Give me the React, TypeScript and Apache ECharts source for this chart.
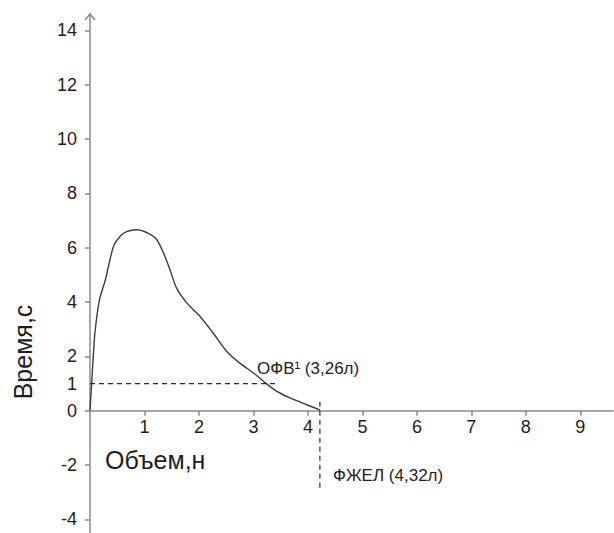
import React, { useEffect, useRef } from "react";
import * as echarts from "echarts";

// Flow-volume style curve (volume in litres on x, value on y)
const curveX = [0, 0.03, 0.06, 0.09, 0.17, 0.28, 0.43, 0.55, 0.67, 0.86, 1.07, 1.22, 1.35, 1.47, 1.59, 1.78, 2.02, 2.26, 2.51, 2.75, 3.0, 3.21, 3.43, 3.67, 3.98, 4.22];
const curveY = [0, 1.0, 2.0, 2.86, 4.05, 4.8, 6.04, 6.41, 6.59, 6.66, 6.53, 6.31, 5.8, 5.18, 4.51, 3.96, 3.47, 2.86, 2.18, 1.75, 1.39, 1.04, 0.71, 0.47, 0.22, 0.03];

const xTickValues = [1, 2, 3, 4, 5, 6, 7, 8, 9];
const yTickValues = [-4, -2, 0, 2, 4, 6, 8, 10, 12, 14];
const yLabelValues = [-4, -2, 0, 1, 2, 4, 6, 8, 10, 12, 14];

const fev1LineX = [0, 3.43];
const fev1LineY = [1, 1];
const fvcLineX = [4.22, 4.22];
const fvcLineY = [0.33, -2.98];

const xAxisTitle = "Объем,н";
const yAxisTitle = "Время,с";
const fev1Label = "ОФВ¹ (3,26л)";
const fvcLabel = "ФЖЕЛ (4,32л)";

const FONT = "'Liberation Sans', Arial, sans-serif";
const AXIS_COLOR = "#8a8a8a";
const TEXT_COLOR = "#1e1e1e";

const Y_MIN = -4.5;
const Y_MAX = 14.6;
const GRID_TOP = 14;
const GRID_BOTTOM = 0;
const HEIGHT = 533;

export default function App() {
  const ref = useRef<HTMLDivElement>(null);
  useEffect(() => {
    if (!ref.current) return;
    const chart = echarts.init(ref.current, undefined, { renderer: "svg" });
    const zip = (xs: number[], ys: number[]) => xs.map((x, i) => [x, ys[i]]);
    const plotH = HEIGHT - GRID_TOP - GRID_BOTTOM;
    // move the x axis (line, ticks, labels) up to y = 0
    const zeroOffset = -((0 - Y_MIN) / (Y_MAX - Y_MIN)) * plotH;
    chart.setOption({
      animation: false,
      backgroundColor: "#ffffff",
      grid: { left: 90, right: 1, top: GRID_TOP, bottom: GRID_BOTTOM, containLabel: false, outerBoundsMode: "none" },
      xAxis: {
        type: "value",
        position: "bottom",
        offset: zeroOffset,
        min: 0,
        max: 9.6,
        interval: 1,
        splitLine: { show: false },
        axisLine: { show: true, onZero: false, lineStyle: { color: AXIS_COLOR, width: 1.5 } },
        axisTick: { show: true, length: 5, customValues: xTickValues, lineStyle: { color: AXIS_COLOR, width: 1.5 } },
        axisLabel: { customValues: xTickValues, margin: 7, fontSize: 18, color: TEXT_COLOR, fontFamily: FONT },
      },
      yAxis: {
        type: "value",
        min: Y_MIN,
        max: Y_MAX,
        splitLine: { show: false },
        axisLine: { show: true, onZero: false, lineStyle: { color: AXIS_COLOR, width: 1.5 } },
        axisTick: { show: true, length: 5, customValues: yTickValues, lineStyle: { color: AXIS_COLOR, width: 1.5 } },
        axisLabel: { customValues: yLabelValues, margin: 13, fontSize: 18, color: TEXT_COLOR, fontFamily: FONT },
      },
      series: [
        {
          type: "line",
          data: zip(curveX, curveY),
          symbol: "none",
          smooth: 0.3,
          lineStyle: { color: "#3c3c3c", width: 1.4 },
        },
        {
          type: "line",
          data: zip(fev1LineX, fev1LineY),
          symbol: "none",
          lineStyle: { color: "#2a2a2a", width: 1.2, type: [5, 4] },
        },
        {
          type: "line",
          data: zip(fvcLineX, fvcLineY),
          symbol: "none",
          lineStyle: { color: "#2a2a2a", width: 1.2, type: [5, 4] },
        },
      ],
      graphic: [
        {
          type: "polyline",
          shape: { points: [[85, 20], [90, 14], [95, 20]] },
          style: { stroke: AXIS_COLOR, lineWidth: 1.5, fill: null },
        },
        {
          type: "text",
          x: 105,
          y: 460,
          style: { text: xAxisTitle, fontSize: 25, fontFamily: FONT, fill: TEXT_COLOR, textAlign: "left", textVerticalAlign: "middle" },
        },
        {
          type: "text",
          x: 23,
          y: 352,
          rotation: Math.PI / 2,
          style: { text: yAxisTitle, fontSize: 25, fontFamily: FONT, fill: TEXT_COLOR, textAlign: "center", textVerticalAlign: "middle" },
        },
        {
          type: "text",
          x: 257,
          y: 368,
          style: { text: fev1Label, fontSize: 17, fontFamily: FONT, fill: TEXT_COLOR, textAlign: "left", textVerticalAlign: "middle" },
        },
        {
          type: "text",
          x: 333,
          y: 475,
          style: { text: fvcLabel, fontSize: 17, fontFamily: FONT, fill: TEXT_COLOR, textAlign: "left", textVerticalAlign: "middle" },
        },
      ],
    });
    return () => chart.dispose();
  }, []);
  return <div ref={ref} style={{ position: "absolute", left: 0, top: 0, width: 614, height: 533 }} />;
}
